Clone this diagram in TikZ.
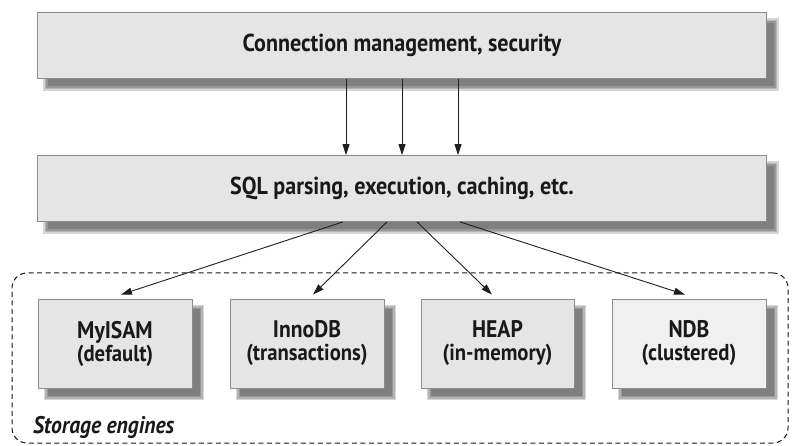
\documentclass[tikz,border=0pt]{standalone}
\usepackage{fontspec}
\setmainfont{PT Sans}[FakeStretch=0.9]
\usetikzlibrary{arrows.meta,backgrounds}
\begin{document}
\begin{tikzpicture}[x=1pt,y=-1pt,
 box/.style={draw=black!45, fill=black!10, line width=0.8pt, inner sep=0pt, text=black!90},
 wide/.style={box, minimum width=729pt, minimum height=66pt, font=\bfseries\fontsize{24.5}{28}\selectfont},
 eng/.style={box, minimum width=154pt, minimum height=89pt, font=\bfseries\fontsize{24}{23}\selectfont, align=center},
 arr/.style={-{Triangle[length=11pt,width=7pt]}, line width=0.9pt, black!88},
 shade/.style={fill=black, opacity=0.16},
 container/.style={draw=black!90, dash pattern=on 5pt off 3.5pt, line width=1pt, rounded corners=15pt, inner sep=0pt}]
\useasboundingbox (0,0) rectangle (792,446);
\node[container, minimum width=776pt, minimum height=170pt] (store) at (400,358) {};
\node[wide] (conn) at (402,45.5) {Connection management, security};
\node[wide] (sql) at (402,188.5) {SQL parsing, execution, caching, etc.};
\node[eng] (e1) at (115,343.5) {MyISAM\\{\fontsize{23}{23}\selectfont (default)}};
\node[eng] (e2) at (307,343.5) {InnoDB\\{\fontsize{23}{23}\selectfont (transactions)}};
\node[eng, minimum width=153pt] (e3) at (497.5,343.5) {HEAP\\{\fontsize{23}{23}\selectfont (in-memory)}};
\node[eng, fill=black!6] (e4) at (689,343.5) {NDB\\{\fontsize{23}{23}\selectfont (clustered)}};
\node[anchor=base west, font=\bfseries\itshape\fontsize{24}{26}\selectfont, text=black!90, inner sep=0pt] (lbl) at (33,433) {Storage engines};
\begin{scope}[on background layer]
\foreach \n in {conn,sql,e1,e2,e3,e4}{
 \foreach \b in {3,1.5,0,-1.5}{
  \fill[shade] ([shift={(9-\b,9-\b)}]\n.north west) rectangle ([shift={(9+\b,9+\b)}]\n.south east);
 }}
\end{scope}
\draw[arr] ([xshift=-56pt]conn.south) -- ([xshift=-56pt]sql.north);
\draw[arr] (conn.south) -- (sql.north);
\draw[arr] ([xshift=56pt]conn.south) -- ([xshift=56pt]sql.north);
\draw[arr] ([xshift=-59pt]sql.south) -- ([xshift=6pt,yshift=4pt]e1.north);
\draw[arr] ([xshift=-15pt]sql.south) -- ([xshift=6pt,yshift=4pt]e2.north);
\draw[arr] ([xshift=15pt]sql.south) -- ([xshift=-5.5pt,yshift=4pt]e3.north);
\draw[arr] ([xshift=58pt]sql.south) -- ([xshift=-4pt,yshift=4pt]e4.north);
\end{tikzpicture}
\end{document}
